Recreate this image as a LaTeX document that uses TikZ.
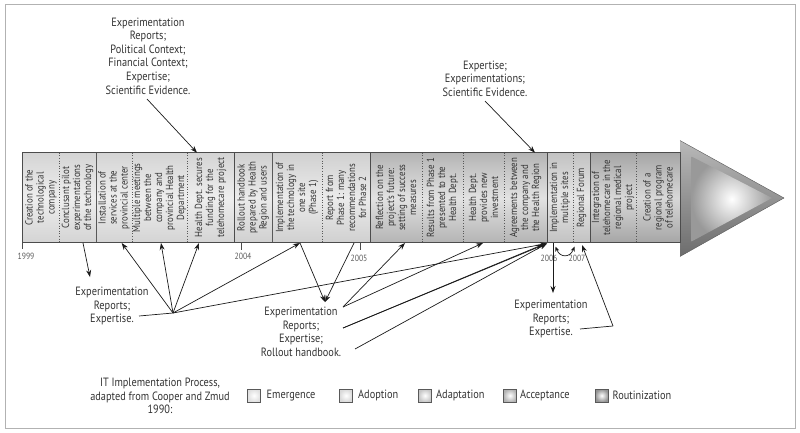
\documentclass[tikz,border=0pt]{standalone}
\usepackage{fontspec}
\setmainfont{PT Sans}[FakeStretch=0.86]
\usetikzlibrary{arrows.meta}
\definecolor{txt}{HTML}{333333}
\definecolor{lnk}{HTML}{1A1A1A}
\definecolor{emA}{HTML}{D4D4D4}\definecolor{emB}{HTML}{EEEEEE}
\definecolor{adA}{HTML}{D0D0D0}\definecolor{adB}{HTML}{EBEBEB}
\definecolor{apA}{HTML}{B4B4B4}\definecolor{apB}{HTML}{E2E2E2}
\definecolor{acA}{HTML}{C2C2C2}\definecolor{acB}{HTML}{E6E6E6}
\definecolor{roA}{HTML}{A6A6A6}\definecolor{roB}{HTML}{D8D8D8}
\tikzset{
  boxtxt/.style={rotate=90, align=center, text=txt, inner sep=0pt,
    font=\fontsize{10.3}{11}\selectfont},
  lbl/.style={align=center, text=txt, inner sep=0pt,
    font=\fontsize{12}{13.6}\selectfont},
  yr/.style={text=txt!80, inner sep=0pt, font=\fontsize{9}{9}\selectfont},
  inner/.style={gray!70!black, dotted, line width=0.6pt},
  solidsep/.style={gray!70!black, line width=0.6pt},
  phasesep/.style={black!70, line width=0.9pt},
  link/.style={lnk, line width=0.7pt},
  arr/.style={link, -{Stealth[length=7pt,width=5pt]}},
  lgbox/.style={draw=black!65, line width=0.6pt},
}
\begin{document}
\begin{tikzpicture}[x=1pt,y=-1pt]
\useasboundingbox (0,0) rectangle (800,432);
\draw[gray!60, line width=0.8pt] (5,4) rectangle (795,428);

% phases of the bar
\shade[top color=emA, bottom color=emA, middle color=emB] (22.7,152.7) rectangle (234,242.7);
\shade[top color=adA, bottom color=adA, middle color=adB] (234,152.7) rectangle (370,242.7);
\shade[top color=apA, bottom color=apA, middle color=apB] (370,152.7) rectangle (547,242.7);
\shade[top color=acA, bottom color=acA, middle color=acB] (547,152.7) rectangle (590,242.7);
\shade[top color=roA, bottom color=roA, middle color=roB] (590,152.7) rectangle (680,242.7);
% arrow head
\shade[top color=gray!55, bottom color=gray!85!black] (680,140.5) -- (784,198) -- (680,256.5) -- cycle;
\shade[inner color=white, outer color=gray!80] (691.5,156.5) -- (772,198) -- (691.5,241.5) -- cycle;
\draw[gray!70!black, line width=0.4pt] (680,140.5) -- (784,198) -- (680,256.5);

% separators
\foreach \x in {59,132,187,322,422,463,504,573,636} \draw[inner] (\x,152.7) -- (\x,242.7);
\foreach \x in {96,272} \draw[solidsep] (\x,152.7) -- (\x,242.7);
\foreach \x in {234,370,547,590} \draw[phasesep] (\x,152.7) -- (\x,242.7);
\draw[black!70, line width=0.9pt] (22.7,152.7) rectangle (680,242.7);

% box texts
\node[boxtxt] (b1) at (41,197.7) {Creation of the\\technological\\company};
\node[boxtxt] (b2) at (77.5,197.7) {Conclusant pilot\\experimentations\\of the technology};
\node[boxtxt] (b3) at (114,197.7) {Installation of\\services at the\\provincial center};
\node[boxtxt] (b4) at (159.5,197.7) {Multiple meetings\\between the\\company and\\provincial Health\\Department};
\node[boxtxt] (b5) at (210.5,197.7) {Health Dept. secures\\funding for the\\telehomecare project};
\node[boxtxt] (b6) at (253,197.7) {Rollout handbook\\prepared by Health\\Region and users};
\node[boxtxt] (b7) at (297,197.7) {Implementation of\\the technology in\\one site\\(Phase 1)};
\node[boxtxt] (b8) at (346,197.7) {Report from\\Phase 1: many\\recommendations\\for Phase 2};
\node[boxtxt] (b9) at (396,197.7) {Reflection on the\\project's future:\\setting of success\\measures};
\node[boxtxt] (b10) at (442.5,197.7) {Results from Phase 1\\presented to the\\Health Dept.};
\node[boxtxt] (b11) at (483.5,197.7) {Health Dept.\\provides new\\investment};
\node[boxtxt] (b12) at (525.5,197.7) {Agreements between\\the company and\\the Health Region};
\node[boxtxt] (b13) at (560,197.7) {Implementation in\\multiple sites};
\node[boxtxt] (b14) at (581.5,197.7) {Regional Forum};
\node[boxtxt] (b15) at (613,197.7) {Integration of\\telehomecare in the\\regional medical\\project};
\node[boxtxt] (b16) at (658,197.7) {Creation of a\\regional program\\of telehomecare};

% years
\draw[black!70, line width=0.6pt] (22.7,242.7) -- (22.7,249);
\draw[black!70, line width=0.6pt] (241.7,242.7) -- (241.7,250);
\draw[black!70, line width=0.6pt] (360.7,242.7) -- (360.7,250);
\node[yr] (y1999) at (26,256.5) {1999};
\node[yr] (y2004) at (243,256.5) {2004};
\node[yr] (y2005) at (359,258) {2005};
\node[yr] (y2006) at (549,258) {2006};
\node[yr] (y2007) at (577,258) {2007};

% upper labels
\node[lbl] (L1) at (148,56) {Experimentation\\Reports;\\Political Context;\\Financial Context;\\Expertise;\\Scientific Evidence.};
\node[lbl] (L2) at (485,78.5) {Expertise;\\Experimentations;\\Scientific Evidence.};
\coordinate (L1a) at (147,99);
\coordinate (L2a) at (485,101);
\coordinate (t5) at (197,152.7);
\coordinate (t12) at (535,152.7);
\draw[arr] (L1a) -- (t5);
\draw[arr] (L2a) -- (t12);

% lower labels
\node[lbl] (LA) at (112,306) {Experimentation\\Reports;\\Expertise.};
\node[lbl] (LB) at (301,332) {Experimentation\\Reports;\\Expertise;\\Rollout handbook.};
\node[lbl] (LC) at (551,319) {Experimentation\\Reports;\\Expertise.};

% bar bottom points
\coordinate (p2) at (83,243);
\coordinate (p3) at (121.7,243);
\coordinate (p4) at (161,243);
\coordinate (p5) at (199,243);
\coordinate (p7) at (300,243);
\coordinate (p8) at (354,243);
\coordinate (p9) at (405,243);
\coordinate (p11) at (483,243);
\coordinate (p13) at (547,243.5);
\coordinate (p13b) at (543,244.5);
\coordinate (p13c) at (553,243);
\coordinate (p13d) at (555.5,246.5);
\coordinate (p14) at (574.5,246.5);
\coordinate (p14b) at (582,245);

% hubs / free ends
\coordinate (LAtop) at (90,277);
\coordinate (LAr) at (139,316);
\coordinate (hubA) at (173,313);
\coordinate (LBtop) at (325,302);
\coordinate (hubB1) at (343,307);
\coordinate (hubB2) at (343,328);
\coordinate (hubB3) at (355,349);
\coordinate (LCtop) at (553,293);
\coordinate (LCr) at (580,329);
\coordinate (hubC) at (613,326);

\draw[arr] (p2) -- (LAtop);
\draw[link] (LAr) -- (hubA);
\foreach \t in {p3,p4,p5,p7,p13} \draw[arr] (hubA) -- (\t);
\draw[arr] (p7) -- (LBtop);
\draw[arr] (p8) -- (LBtop);
\draw[arr] (hubB1) -- (p9);
\draw[arr] (hubB1) -- (p11);
\draw[arr] (hubB2) -- (p13);
\draw[arr] (hubB2) -- (p13b);
\draw[arr] (hubB3) -- (p13);
\draw[arr] (p13c) -- (LCtop);
\draw[link] (LCr) -- (hubC);
\draw[arr] (hubC) -- (p14b);
\draw[link, {Stealth[length=5pt,width=4pt]}-{Stealth[length=5pt,width=4pt]}] (p13d) .. controls (560,258) and (570,258) .. (p14);

% legend
\node[lbl] (LG) at (160,396) {IT Implementation Process,\\adapted from Cooper and Zmud\\1990:};
\shade[lgbox, inner color=white, outer color=gray!25] (247.3,389) rectangle (260.7,402);
\node[lbl, anchor=west] (g1) at (266.5,395.5) {Emergence};
\shade[lgbox, inner color=white, outer color=gray!30] (339.3,389) rectangle (352.7,402);
\node[lbl, anchor=west] (g2) at (358,395.5) {Adoption};
\shade[lgbox, inner color=white, outer color=gray!45] (418.3,389) rectangle (431.7,402);
\node[lbl, anchor=west] (g3) at (436,395.5) {Adaptation};
\shade[lgbox, inner color=white, outer color=gray!60] (503.3,389) rectangle (516.7,402);
\node[lbl, anchor=west] (g4) at (520,395.5) {Acceptance};
\shade[lgbox, inner color=white, outer color=gray!85] (595,389) rectangle (608.4,402);
\node[lbl, anchor=west] (g5) at (612.5,395.5) {Routinization};
\end{tikzpicture}
\end{document}
